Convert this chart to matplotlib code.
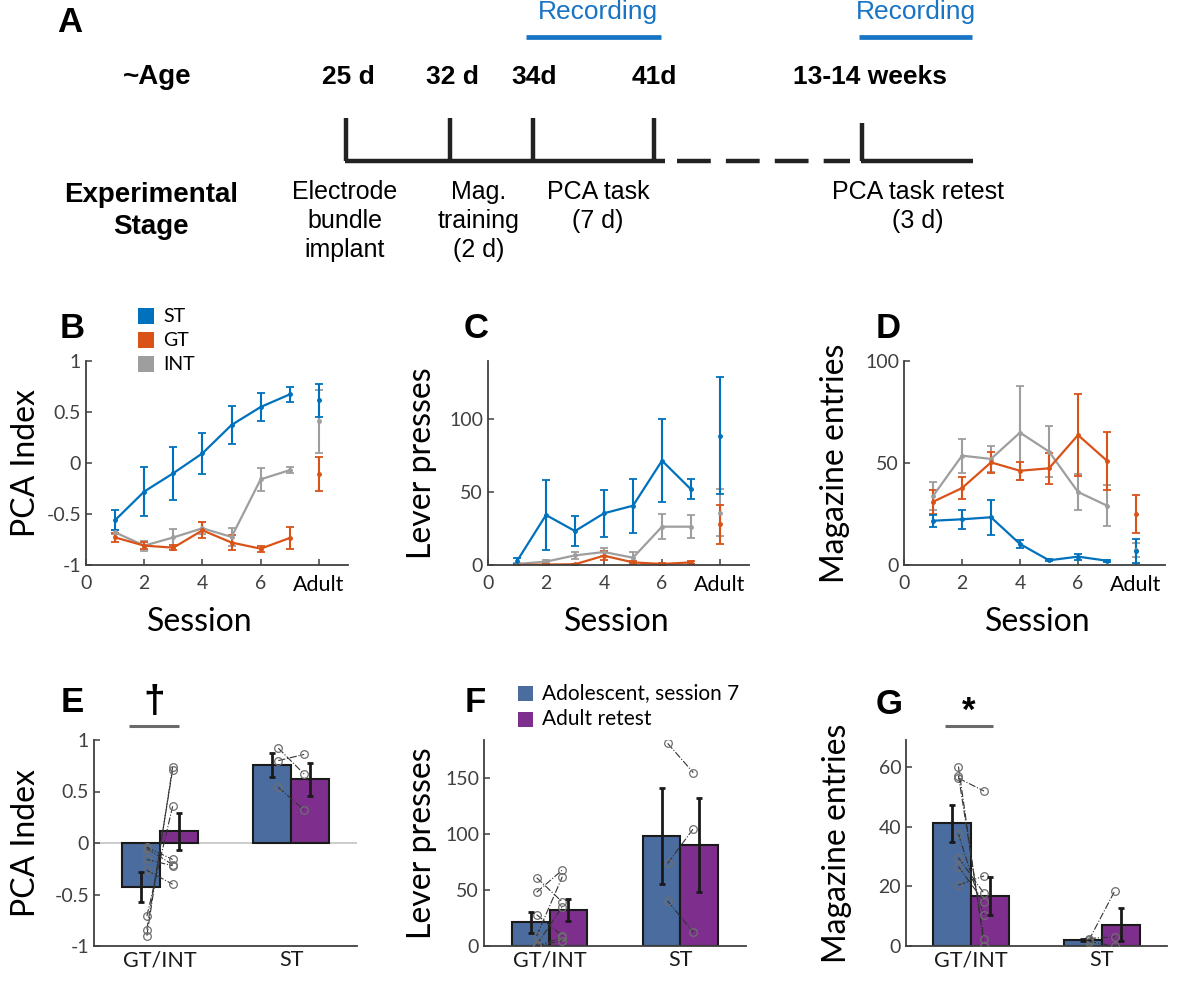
import matplotlib

matplotlib.use("Agg")
import matplotlib.pyplot as plt
import numpy as np
from matplotlib.patches import Rectangle

W, H = 1200, 983

# ---- panel A timeline ----
ages = ["25 d", "32 d", "34d", "41d", "13-14 weeks"]
stages = ["Electrode\nbundle\nimplant", "Mag.\ntraining\n(2 d)", "PCA task\n(7 d)", "PCA task retest\n(3 d)"]

# ---- panels B-D: session means and SEM ----
sessions = [1, 2, 3, 4, 5, 6, 7]
adult_x = 8

st_pca = [-0.56, -0.28, -0.10, 0.095, 0.373, 0.549, 0.673]
st_pca_sem = [0.10, 0.24, 0.26, 0.20, 0.19, 0.14, 0.073]
gt_pca = [-0.73, -0.81, -0.83, -0.66, -0.78, -0.84, -0.735]
gt_pca_sem = [0.045, 0.035, 0.025, 0.077, 0.07, 0.03, 0.105]
int_pca = [-0.68, -0.81, -0.73, -0.64, -0.725, -0.16, -0.07]
int_pca_sem = [0.02, 0.05, 0.085, 0.06, 0.09, 0.115, 0.03]
adult_pca = {"ST": (0.614, 0.16), "GT": (-0.108, 0.165), "INT": (0.41, 0.31)}

st_lever = [2.7, 34.3, 23.3, 35.5, 40.7, 71.6, 51.9]
st_lever_sem = [2.0, 24, 10.2, 16.3, 18.5, 28.5, 6.9]
gt_lever = [0.0, 0.3, 0.5, 6.4, 1.8, 0.7, 1.8]
gt_lever_sem = [0.3, 0.3, 0.5, 3.1, 1.0, 0.5, 1.2]
int_lever = [0.7, 2.3, 6.6, 8.9, 5.0, 26.3, 26.3]
int_lever_sem = [0.5, 1.0, 2.3, 2.5, 3.6, 8.4, 7.8]
adult_lever = {"ST": (88.8, 40), "GT": (27.9, 13.4), "INT": (36, 16)}

st_mag = [21.7, 22.4, 23.4, 10.3, 2.3, 4.1, 2.1]
st_mag_sem = [2.9, 4.8, 8.6, 2.2, 0.5, 1.5, 0.5]
gt_mag = [31.0, 37.7, 50.3, 46.2, 47.4, 63.7, 51.1]
gt_mag_sem = [6.0, 5.2, 5.3, 4.3, 7.5, 20, 14.2]
int_mag = [33.8, 53.6, 52.0, 64.9, 55.6, 35.8, 29.1]
int_mag_sem = [6.9, 8.4, 6.2, 23, 12.6, 8.6, 10]
adult_mag = {"ST": (6.9, 6.0), "GT": (25.0, 9.1), "INT": (7.5, 3.5)}

# ---- panels E-G: adolescent session 7 vs adult retest ----
groups = ["GT/INT", "ST"]
pca_adol = [-0.43, 0.754]
pca_adol_sem = [0.145, 0.115]
pca_adult = [0.113, 0.618]
pca_adult_sem = [0.18, 0.16]
pca_pts_adol = [[-0.90, -0.84, -0.71, -0.04, -0.055, -0.16, -0.265], [0.92, 0.80, 0.54]]
pca_pts_adult = [[0.74, 0.71, 0.356, -0.16, -0.21, -0.22, -0.40], [0.67, 0.86, 0.32]]

lever_adol = [21.1, 98.5]
lever_adol_sem = [9.5, 42.7]
lever_adult = [32.1, 90.5]
lever_adult_sem = [10, 42]
lever_pts_adol = [[61, 48, 28, 9, 1, 0, 0], [181, 73.8, 40.2]]
lever_pts_adult = [[39.3, 67.9, 9.2, 61.9, 35.1, 7.7, 4.7], [154.8, 104.8, 12.2]]

mag_adol = [41.1, 2.0]
mag_adol_sem = [6.2, 0.3]
mag_adult = [16.75, 7.15]
mag_adult_sem = [6.5, 5.6]
mag_pts_adol = [[56.2, 60.1, 57.1, 37.5, 29.6, 26.6, 20.4], [2.0, 2.5, 1.5]]
mag_pts_adult = [[51.9, 0.1, 2.2, 10.4, 17.6, 14.8, 23.5], [18.3, 3.1, 0.0]]

C_ST = "#0072BD"
C_GT = "#D95319"
C_INT = "#9E9E9E"
C_ADOL = "#4a6c9e"
C_ADULT = "#7e2f8e"
C_REC = "#1874c4"
AX_COL = "#404040"

plt.rcParams["font.family"] = ["Lato", "DejaVu Sans"]
ARIAL = ["Liberation Sans", "DejaVu Sans"]

fig = plt.figure(figsize=(W / 100, H / 100), dpi=100)

# overlay in pixel coordinates
ov = fig.add_axes([0, 0, 1, 1])
ov.set_xlim(0, W)
ov.set_ylim(H, 0)
ov.axis("off")


def px_axes(left, top, right, bottom):
    return fig.add_axes([left / W, 1 - bottom / H, (right - left) / W, (bottom - top) / H])


def style(ax):
    for side in ("top", "right"):
        ax.spines[side].set_visible(False)
    for side in ("left", "bottom"):
        ax.spines[side].set_color(AX_COL)
        ax.spines[side].set_linewidth(1.3)
    ax.tick_params(direction="in", length=4, width=1.1, color=AX_COL, labelcolor="#404040", labelsize=14)
    ax.patch.set_alpha(0)


# ---------- panel A ----------
ov.text(70, 22, "A", fontsize=25, fontweight="bold", family=ARIAL, ha="center", va="center")
ov.text(157, 77, "~Age", fontsize=20, fontweight="bold", family=ARIAL, ha="center", va="center")
ov.text(151, 211, "Experimental\nStage", fontsize=20, fontweight="bold", family=ARIAL,
        ha="center", va="center", linespacing=1.3)
age_x = [348, 452, 534, 654, 870]
for label, x in zip(ages, age_x):
    ov.text(x, 77, label, fontsize=19, fontweight="bold", family=ARIAL, ha="center", va="center")
tick_x = [346, 450, 533, 654]
for x in tick_x:
    ov.plot([x, x], [118, 161], color="#222222", lw=3.2, solid_capstyle="butt")
ov.plot([862, 862], [123, 161], color="#222222", lw=3.2, solid_capstyle="butt")
ov.plot([344.5, 665], [161, 161], color="#222222", lw=3.2, solid_capstyle="butt")
ov.plot([677, 850], [161, 161], color="#222222", lw=3.2, dashes=(7.6, 3.4))
ov.plot([860.5, 973], [161, 161], color="#222222", lw=3.2, solid_capstyle="butt")
for (x0, x1), xc in zip([(526, 661), (859, 972)], [598, 916]):
    ov.plot([x0, x1], [37, 37], color=C_REC, lw=3.4, solid_capstyle="butt")
    ov.text(xc, 12, "Recording", fontsize=19, color=C_REC, family=ARIAL, ha="center", va="center")
stage_x = [345, 479, 598, 918]
for label, x in zip(stages, stage_x):
    ov.text(x, 180, label, fontsize=18, family=ARIAL, ha="center", va="top", linespacing=1.25)


# ---------- panels B-D ----------
def line_panel(ax, series, adult, ylim, yticks, yticklabels):
    for mean, sem, color, key in series:
        ax.errorbar(sessions, mean, yerr=sem, color=color, lw=1.6, elinewidth=1.5, capsize=3,
                    capthick=1.3, marker=".", ms=5)
        m, s = adult[key]
        ax.errorbar([adult_x], [m], yerr=[s], color=color, elinewidth=1.5, capsize=3,
                    capthick=1.3, marker=".", ms=5)
    ax.set_xlim(0, 9)
    ax.set_ylim(*ylim)
    ax.set_xticks([0, 2, 4, 6, 8])
    ax.set_xticklabels(["0", "2", "4", "6", "Adult"])
    ax.set_yticks(yticks)
    ax.set_yticklabels(yticklabels)
    style(ax)
    ax.tick_params(axis="x", pad=7)
    lab = ax.get_xticklabels()[-1]
    lab.set_color("black")
    lab.set_fontsize(15.5)


axB = px_axes(86, 361, 348, 565)
line_panel(axB, [(int_pca, int_pca_sem, C_INT, "INT"), (gt_pca, gt_pca_sem, C_GT, "GT"),
                 (st_pca, st_pca_sem, C_ST, "ST")],
           adult_pca, (-1, 1), [-1, -0.5, 0, 0.5, 1], ["-1", "-0.5", "0", "0.5", "1"])
axC = px_axes(488, 361, 749, 565)
line_panel(axC, [(int_lever, int_lever_sem, C_INT, "INT"), (gt_lever, gt_lever_sem, C_GT, "GT"),
                 (st_lever, st_lever_sem, C_ST, "ST")],
           adult_lever, (0, 140), [0, 50, 100], ["0", "50", "100"])
axD = px_axes(904, 361, 1165, 565)
line_panel(axD, [(int_mag, int_mag_sem, C_INT, "INT"), (gt_mag, gt_mag_sem, C_GT, "GT"),
                 (st_mag, st_mag_sem, C_ST, "ST")],
           adult_mag, (0, 100), [0, 50, 100], ["0", "50", "100"])

for x, letter in zip([72, 476, 888], "BCD"):
    ov.text(x, 329, letter, fontsize=25, fontweight="bold", family=ARIAL, ha="center", va="center")
for x in [200, 617, 1038]:
    ov.text(x, 622, "Session", fontsize=23, ha="center", va="center")
ov.text(26, 463, "PCA Index", fontsize=23, rotation=90, ha="center", va="center")
ov.text(422, 463, "Lever presses", fontsize=23, rotation=90, ha="center", va="center")
ov.text(835, 463, "Magazine entries", fontsize=23, rotation=90, ha="center", va="center")

for (label, color), y in zip([("ST", C_ST), ("GT", C_GT), ("INT", C_INT)], [316, 340, 364]):
    ov.add_patch(Rectangle((138, y - 8), 16, 16, color=color, lw=0))
    ov.text(163, y, label, fontsize=14, ha="left", va="center")


# ---------- panels E-G ----------
def bar_panel(ax, adol, adol_sem, adult, adult_sem, pts_adol, pts_adult, ylim, yticks, yticklabels):
    x = np.arange(1, len(groups) + 1)
    bw = 0.29
    ax.bar(x - bw / 2, adol, bw, color=C_ADOL, edgecolor="#1a1a1a", lw=1.5, zorder=2)
    ax.bar(x + bw / 2, adult, bw, color=C_ADULT, edgecolor="#1a1a1a", lw=1.5, zorder=2)
    for i, xc in enumerate(x):
        for a, b in zip(pts_adol[i], pts_adult[i]):
            ax.plot([xc - 0.098, xc + 0.098], [a, b], ls="-.", color="#333333", lw=0.8, zorder=3,
                    marker="o", ms=5.5, mfc="none", mec="#6e6e6e", mew=0.9)
    ax.errorbar(x - bw / 2, adol, yerr=adol_sem, fmt="none", ecolor="#1a1a1a", elinewidth=2,
                capsize=2.2, capthick=2, zorder=4)
    ax.errorbar(x + bw / 2, adult, yerr=adult_sem, fmt="none", ecolor="#1a1a1a", elinewidth=2,
                capsize=2.2, capthick=2, zorder=4)
    ax.set_xlim(0.5, 2.5)
    ax.set_ylim(*ylim)
    ax.set_xticks(x)
    ax.set_xticklabels(groups)
    ax.set_yticks(yticks)
    ax.set_yticklabels(yticklabels)
    style(ax)
    ax.tick_params(axis="x", length=0, labelsize=15.5, labelcolor="#1a1a1a", pad=3)


axE = px_axes(94, 740, 357, 946)
axE.axhline(0, color="#c4c4c4", lw=1.2, zorder=1)
bar_panel(axE, pca_adol, pca_adol_sem, pca_adult, pca_adult_sem, pca_pts_adol, pca_pts_adult,
          (-1, 1), [-1, -0.5, 0, 0.5, 1], ["-1", "-0.5", "0", "0.5", "1"])
axF = px_axes(484, 740, 746, 946)
bar_panel(axF, lever_adol, lever_adol_sem, lever_adult, lever_adult_sem, lever_pts_adol,
          lever_pts_adult, (0, 184), [0, 50, 100, 150], ["0", "50", "100", "150"])
axG = px_axes(906, 740, 1167, 946)
bar_panel(axG, mag_adol, mag_adol_sem, mag_adult, mag_adult_sem, mag_pts_adol, mag_pts_adult,
          (0, 69), [0, 20, 40, 60], ["0", "20", "40", "60"])

for x, y, letter in zip([72, 475, 889], [703, 703, 705], "EFG"):
    ov.text(x, y, letter, fontsize=25, fontweight="bold", family=ARIAL, ha="center", va="center")
ov.text(26, 843, "PCA Index", fontsize=23, rotation=90, ha="center", va="center")
ov.text(422, 843, "Lever presses", fontsize=23, rotation=90, ha="center", va="center")
ov.text(837, 843, "Magazine entries", fontsize=23, rotation=90, ha="center", va="center")

# significance marks
ov.plot([129, 179], [726, 726], color="#6a6a6a", lw=2.2, solid_capstyle="butt")
ov.text(154, 702, "\u2020", fontsize=28, fontweight="bold", family=ARIAL, ha="center", va="center")
ov.plot([945, 993], [726, 726], color="#6a6a6a", lw=2.2, solid_capstyle="butt")
ov.text(969, 711, "*", fontsize=25, fontweight="bold", family=ARIAL, ha="center", va="center")

for (label, color), y in zip([("Adolescent, session 7", C_ADOL), ("Adult retest", C_ADULT)], [693, 719]):
    ov.add_patch(Rectangle((518, y - 7.5), 15, 15, color=color, lw=0))
    ov.text(542, y, label, fontsize=15, ha="left", va="center")

fig.savefig("out.png", dpi=100)
